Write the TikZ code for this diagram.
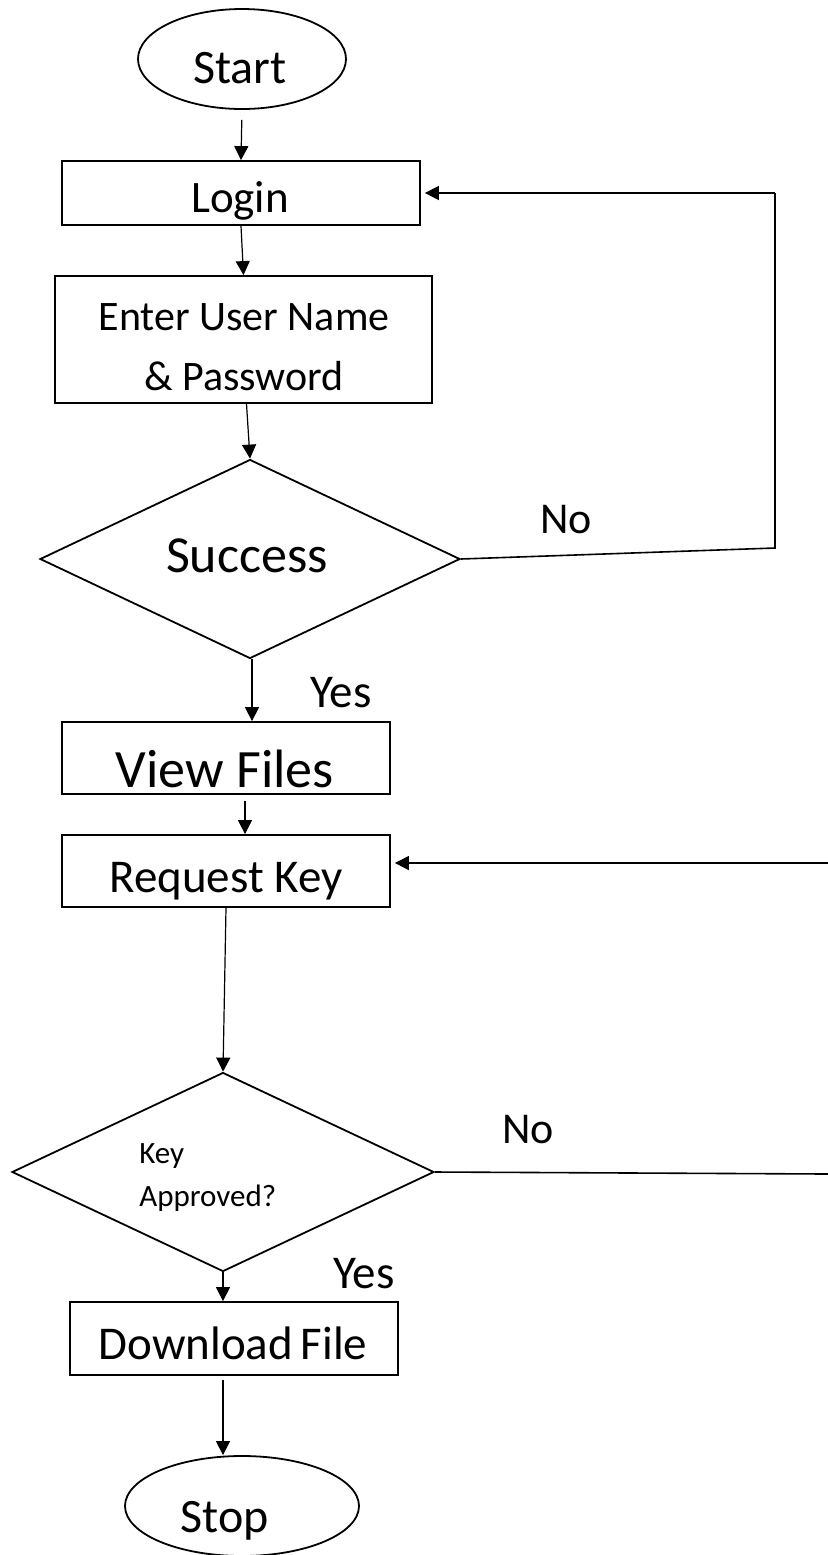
\documentclass[tikz,border=0pt]{standalone}
\usepackage{fontspec}
\setmainfont{Carlito}
\usetikzlibrary{shapes.geometric,arrows.meta,calc}
\tikzset{
  shapebase/.style={draw=black, line width=0.9pt, inner sep=0pt},
  terminal/.style={shapebase, ellipse},
  procbox/.style={shapebase, rectangle},
  decision/.style={shapebase, diamond},
  lbl/.style={anchor=base, inner sep=0pt, text=black},
  flow/.style={line width=0.6pt, -{Triangle[length=7pt,width=7pt]}},
  loopline/.style={line width=0.8pt},
  looparrow/.style={line width=0.8pt, -{Triangle[length=7pt,width=7pt]}, shorten >=2pt},
}
\newcommand{\fs}[1]{\fontsize{#1}{#1}\selectfont}
\begin{document}
\begin{tikzpicture}[x=0.5pt,y=-0.5pt]
  \fill[white] (0,0) rectangle (828,1555);
  \useasboundingbox (0,0) rectangle (828,1555);

  % shapes
  \node[terminal, minimum width=104pt, minimum height=50pt] (start) at (242,59) {};
  \node[procbox, minimum width=179pt, minimum height=32pt] (login) at (241,193) {};
  \node[procbox, minimum width=188.5pt, minimum height=63.5pt] (enter) at (243.5,339.5) {};
  \node[decision, minimum width=210pt, minimum height=99.5pt] (success) at (250,559) {};
  \node[procbox, minimum width=164pt, minimum height=36pt] (view) at (226,758) {};
  \node[procbox, minimum width=164pt, minimum height=36pt] (request) at (226,871) {};
  \node[decision, minimum width=211pt, minimum height=99.5pt] (key) at (223,1172) {};
  \node[procbox, minimum width=164pt, minimum height=36.5pt] (download) at (234,1338.5) {};
  \node[terminal, minimum width=117pt, minimum height=50pt] (stop) at (242,1506) {};

  % texts
  \node[lbl, font=\fs{24pt}] (startT) at (240,83) {Start};
  \node[lbl, font=\fs{22.5pt}] (loginT) at (240,212) {Login};
  \node[lbl, font=\fs{21pt}] (enterT1) at (244,330) {Enter User Name};
  \node[lbl, font=\fs{21pt}] (enterT2) at (244,390) {\& Password};
  \node[lbl, font=\fs{26pt}] (successT) at (247,572) {Success};
  \node[lbl, font=\fs{22pt}] (noA) at (566,533) {No};
  \node[lbl, font=\fs{23.5pt}] (yesA) at (341,707) {Yes};
  \node[lbl, font=\fs{27pt}] (viewT) at (225,787) {View Files};
  \node[lbl, font=\fs{23.5pt}] (requestT) at (226,892) {Request Key};
  \node[lbl, font=\fs{15.5pt}, anchor=base west] (keyT1) at (139,1163) {Key};
  \node[lbl, font=\fs{15.5pt}, anchor=base west] (keyT2) at (139,1206) {Approved?};
  \node[lbl, font=\fs{22pt}] (noB) at (528,1143) {No};
  \node[lbl, font=\fs{23.5pt}] (yesB) at (364,1288) {Yes};
  \node[lbl, font=\fs{23.5pt}] (downloadT) at (233,1359) {Download\,File};
  \node[lbl, font=\fs{24pt}] (stopT) at (225,1532) {Stop};

  % main flow
  \draw[flow, shorten <=5pt] (start.south) -- (login.north);
  \draw[flow] (login.south) -- (enter.north);
  \draw[flow] ($(enter.south)+(3,0)$) -- (success.north);
  \coordinate (s1) at ($(success.south)+(2,0)$);
  \draw[flow] (s1) -- (s1 |- view.north);
  \coordinate (v1) at ($(view.south)+(19,0)$);
  \draw[flow, shorten <=3pt] (v1) -- (v1 |- request.north);
  \draw[flow] (request.south) -- (key.north);
  \draw[flow] (key.south) -- (key.south |- download.north);
  \coordinate (d1) at ($(download.south)+(-11,0)$);
  \draw[flow, shorten <=2pt] (d1) -- (d1 |- stop.north);

  % retry loop after a failed login
  \coordinate (r1) at (775,548);
  \coordinate (r2) at (775,193);
  \draw[loopline] (success.east) -- (r1) -- (r2);
  \draw[looparrow] (r2) -- (login.east);

  % loop back to the key request when the key is not approved
  \coordinate (e1) at (828,863);
  \coordinate (e2) at (828,1174);
  \draw[loopline] (key.east) -- (e2);
  \draw[looparrow] (e1) -- (e1 -| request.east);
\end{tikzpicture}
\end{document}
